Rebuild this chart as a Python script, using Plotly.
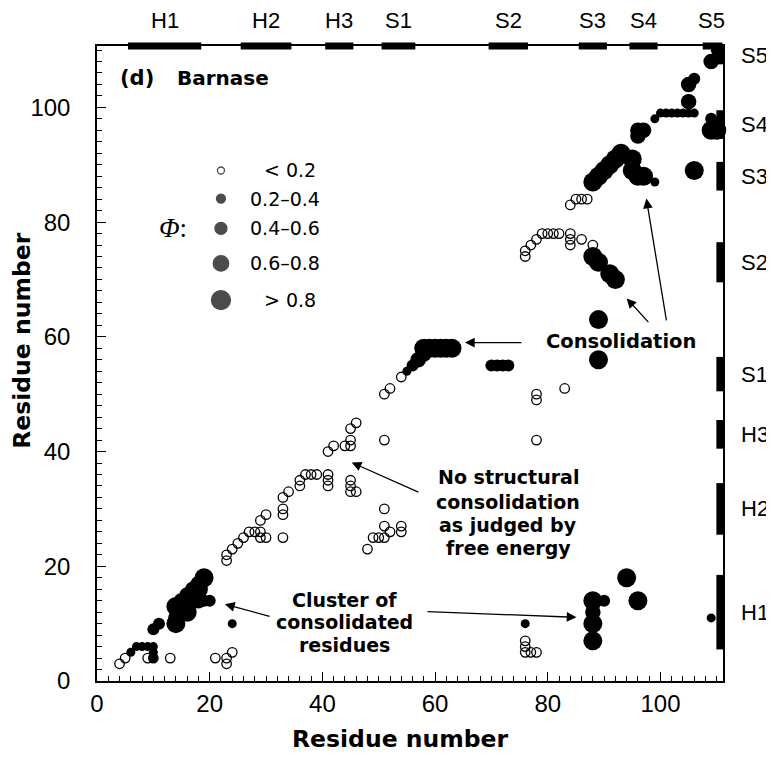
import plotly.graph_objects as go

# ---------------- data (residue number vs residue number) ----------------
# Phi < 0.2 (open circles)
open_x = [4, 5, 9, 10, 13, 21, 23, 23, 24,
          23, 23, 24, 25, 26, 27, 28, 29, 29, 29, 30, 30, 33, 33, 33, 33, 34, 36, 36, 37, 38, 39,
          41, 41, 41, 41, 42, 44, 45, 45, 45, 46, 45, 45, 45, 46, 51, 51, 52, 54,
          51, 51, 51, 50, 49, 48, 52, 54, 54,
          76, 76, 77, 78, 79, 80, 81, 82, 84, 84, 84, 86, 88, 84, 85, 86, 87,
          78, 78, 83, 78, 76, 76, 76, 77, 78]
open_y = [3, 4, 4, 4, 4, 4, 3, 4, 5,
          21, 22, 23, 24, 25, 26, 26, 26, 25, 28, 29, 25, 25, 29, 30, 32, 33, 34, 35, 36, 36, 36,
          36, 35, 34, 40, 41, 41, 41, 42, 44, 45, 35, 34, 33, 33, 42, 50, 51, 53,
          30, 27, 25, 25, 25, 23, 26, 27, 26,
          74, 75, 76, 77, 78, 78, 78, 78, 78, 77, 76, 77, 76, 83, 84, 84, 84,
          50, 49, 51, 42, 7, 6, 5, 5, 5]

# Phi 0.2-0.4
p2_x = [6, 7, 8, 9, 10, 10, 10, 24, 76, 109, 55, 99, 100, 101, 102, 103, 104, 105, 106, 99]
p2_y = [5, 6, 6, 6, 6, 5, 4, 10, 10, 11, 54, 98, 99, 99, 99, 99, 99, 99, 99, 87]

# Phi 0.4-0.6
p4_x = [10, 11, 20, 19, 14, 70, 71, 72, 73, 56, 90, 109, 110, 106]
p4_y = [9, 10, 14, 14, 12, 55, 55, 55, 55, 55, 14, 98, 110, 105]

# Phi 0.6-0.8
p6_x = [15, 15, 16, 16, 17, 18, 18, 17, 15, 14, 57, 58, 88, 96, 96, 97, 105, 109, 105]
p6_y = [13, 14, 14, 15, 14, 14, 17, 16, 12, 11, 56, 57, 12, 95, 96, 96, 101, 108, 104]

# Phi > 0.8
p8_x = [14, 14, 16, 17, 19, 18,
        58, 59, 60, 61, 62, 63,
        88, 89, 91, 92, 89, 89,
        88, 88, 88, 94, 96,
        88, 89, 90, 91, 92, 93,
        95, 95, 96, 97, 106, 109, 110]
p8_y = [10, 13, 12, 15, 18, 16,
        58, 58, 58, 58, 58, 58,
        74, 73, 71, 70, 63, 56,
        14, 10, 7, 18, 14,
        87, 88, 89, 90, 91, 92,
        91, 89, 88, 88, 89, 96, 96]

# legend
legend_labels = ["< 0.2", "0.2\u20130.4", "0.4\u20130.6", "0.6\u20130.8", "> 0.8"]
legend_y = [89.0, 84.1, 78.9, 72.8, 66.4]

# secondary structure elements
ss_names = ["H1", "H2", "H3", "S1", "S2", "S3", "S4", "S5"]
ss_start = [5.5, 25.5, 40.5, 50.5, 69.5, 85.5, 94.5, 107.5]
ss_end = [18.5, 34.5, 45.5, 56.5, 76.5, 90.5, 99.5, 111.0]

tick_vals = list(range(0, 111, 10))
tick_text = [str(v) if v % 20 == 0 else "" for v in tick_vals]

# ---------------- styles ----------------
XMAX, YMAX = 111.1, 110.7
BLACK = "black"
FONT = "Liberation Sans, Arial, sans-serif"
BOLD = "DejaVu Sans, sans-serif"

fig = go.Figure()

def filled(x, y, size):
    fig.add_trace(go.Scatter(x=x, y=y, mode="markers", showlegend=False,
                             marker=dict(symbol="circle", size=size, color=BLACK, line=dict(width=0)),
                             cliponaxis=False))

filled(p8_x, p8_y, 19)
filled(p6_x, p6_y, 15.5)
filled(p4_x, p4_y, 12)
filled(p2_x, p2_y, 9)
fig.add_trace(go.Scatter(x=open_x, y=open_y, mode="markers", showlegend=False,
                         marker=dict(symbol="circle-open", size=9.5, color=BLACK, line=dict(width=1.3, color=BLACK))))

# legend markers
leg_sizes = [7, 9, 12, 15.5, 19]
leg_syms = ["circle-open", "circle", "circle", "circle", "circle"]
fig.add_trace(go.Scatter(x=[22] * 5, y=legend_y, mode="markers", showlegend=False,
                         marker=dict(symbol=leg_syms, size=leg_sizes, color=BLACK,
                                     line=dict(width=1.3, color=BLACK))))

ann = []
for lab, yy in zip(legend_labels, legend_y):
    xx = 29.3 if lab.startswith(("<", ">")) else 26.8
    ann.append(dict(x=xx, y=yy, text=lab, showarrow=False, xanchor="left", yanchor="middle",
                    font=dict(family="DejaVu Sans", size=19, color=BLACK)))
ann.append(dict(x=13.5, y=78.9, text="<i>\u03a6</i>:", showarrow=False,
                font=dict(family="Liberation Serif", size=27, color=BLACK)))

# texts
def btext(x, y, t, size=19):
    ann.append(dict(x=x, y=y, text="<b>" + t + "</b>", showarrow=False, xanchor="center", yanchor="middle",
                    font=dict(family=BOLD, size=size, color=BLACK)))

btext(7.1, 105.1, "(d)", 21)
btext(22.4, 105.1, "Barnase", 20)
btext(93.0, 59.2, "Consolidation", 19.5)
for t, yy in zip(["No structural", "consolidation", "as judged by", "free energy"], [35.6, 31.2, 27.2, 23.1]):
    btext(73.0, yy, t)
for t, yy in zip(["Cluster of", "consolidated", "residues"], [14.1, 10.2, 6.3]):
    btext(44.0, yy, t)

# axis titles (placed as annotations, paper coords)
ann.append(dict(x=0.484, y=-0.0915, xref="paper", yref="paper", text="<b>Residue number</b>", showarrow=False,
                xanchor="center", yanchor="middle", font=dict(family=BOLD, size=23.5, color=BLACK)))
ann.append(dict(x=-0.119, y=0.535, xref="paper", yref="paper", text="<b>Residue number</b>", showarrow=False,
                textangle=-90, xanchor="center", yanchor="middle", font=dict(family=BOLD, size=23.5, color=BLACK)))

# arrows (head, tail)
arrows = [((65.3, 59.0), (75.6, 59.0)),
          ((94.0, 66.7), (98.1, 62.3)),
          ((97.5, 84.1), (101.1, 62.6)),
          ((45.2, 38.1), (57.3, 32.8)),
          ((22.7, 13.4), (30.9, 11.2)),
          ((85.1, 11.1), (58.4, 12.1))]
for (hx, hy), (tx, ty) in arrows:
    ann.append(dict(x=hx, y=hy, ax=tx, ay=ty, axref="x", ayref="y", xref="x", yref="y", text="",
                    showarrow=True, arrowhead=2, arrowsize=1.5, arrowwidth=1.3, arrowcolor=BLACK, standoff=0))

# secondary structure bars and labels
shapes = []
for n, s, e in zip(ss_names, ss_start, ss_end):
    shapes.append(dict(type="line", xref="x", yref="paper", x0=s, x1=e, y0=1, y1=1,
                       line=dict(color=BLACK, width=7)))
    shapes.append(dict(type="line", xref="paper", yref="y", x0=0.995, x1=0.995, y0=s, y1=min(e, YMAX),
                       line=dict(color=BLACK, width=7)))
    ann.append(dict(x=(s + min(e, 110.5)) / 2, y=1.040, xref="x", yref="paper", text=n, showarrow=False,
                    xanchor="center", yanchor="middle", font=dict(family=FONT, size=22, color=BLACK)))
    ann.append(dict(x=1.025, y=(s + min(e, 110.5)) / 2, xref="paper", yref="y", text=n, showarrow=False,
                    xanchor="left", yanchor="middle", font=dict(family=FONT, size=22, color=BLACK)))

axis_common = dict(showline=True, mirror=True, linecolor=BLACK, linewidth=1.5, automargin=False,
                   ticks="inside", ticklen=9, tickwidth=1.3, tickcolor=BLACK,
                   tickvals=tick_vals, ticktext=tick_text,
                   minor=dict(tickvals=list(range(0, 111, 2)), ticks="inside", ticklen=5, tickwidth=1, tickcolor=BLACK),
                   showgrid=False, zeroline=False,
                   tickfont=dict(family=FONT, size=24, color=BLACK))

# page has an 8 px body margin; keep the figure inside the window so nothing scrolls
fig.update_layout(
    width=766, height=746,
    margin=dict(l=89, r=51, t=38, b=73),
    plot_bgcolor="white", paper_bgcolor="white",
    xaxis=dict(range=[0, XMAX], **axis_common),
    yaxis=dict(range=[0, YMAX], ticklabelstandoff=20, **axis_common),
    annotations=ann, shapes=shapes,
)

fig.write_html("out.html")
